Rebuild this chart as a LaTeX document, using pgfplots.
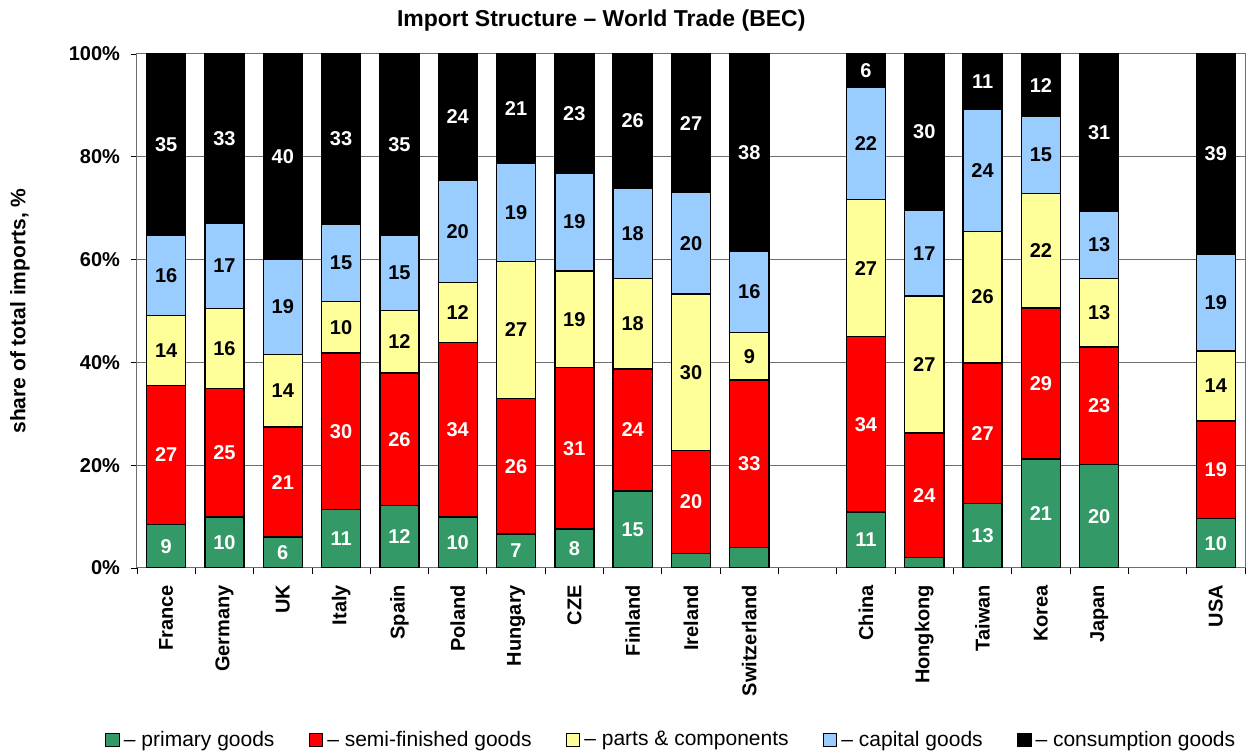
\documentclass[border=0pt]{standalone}
\usepackage{fontspec}
\setmainfont{Liberation Sans}
\usepackage{pgfplots}
\pgfplotsset{compat=1.18}
\definecolor{primgreen}{RGB}{51,153,102}
\definecolor{semired}{RGB}{255,0,0}
\definecolor{partyellow}{RGB}{255,255,153}
\definecolor{capblue}{RGB}{153,204,255}
\definecolor{gridgray}{RGB}{110,110,110}

\pgfplotsset{
  chartframe/.style={
    at={(0pt,0pt)}, anchor=south west,
    scale only axis, width=554pt, height=257pt,
    xmin=-0.5, xmax=18.5, ymin=0, ymax=100,
    enlargelimits=false,
  },
}

\begin{document}
\begin{tikzpicture}
\useasboundingbox (-68.5pt,-92.5pt) rectangle (558.5pt,284pt);
% stacked bars
\begin{axis}[
  chartframe,
  ybar stacked, bar width=0.67,
  xtick={-0.5,0.5,...,18.5}, xticklabels={},
  extra x ticks={0,1,2,3,4,5,6,7,8,9,10,12,13,14,15,16,18},
  extra x tick labels={France,Germany,UK,Italy,Spain,Poland,Hungary,CZE,Finland,Ireland,Switzerland,China,Hongkong,Taiwan,Korea,Japan,USA},
  extra x tick style={major tick length=0pt, grid=none,
    xticklabel style={rotate=90, anchor=east, font=\fontsize{10}{12}\selectfont\bfseries, xshift=-5pt}},
  ytick={0,20,...,100},
  yticklabel={\pgfmathprintnumber{\tick}\%},
  /pgf/number format/assume math mode=true,
  yticklabel style={font=\fontsize{10}{12}\selectfont\bfseries, xshift=-2pt},
  tick align=outside, major tick length=3pt,
  xtick pos=bottom, ytick pos=left,
  tick style={black, line width=0.4pt},
  axis line style={gridgray, line width=0.5pt},
  ymajorgrids, grid style={gridgray, line width=0.5pt},
  ylabel={share of total imports, \%},
  ylabel style={at={(axis description cs:-0.1056,0.5)}, anchor=center, font=\fontsize{10.5}{12}\selectfont\bfseries},
  title={Import Structure – World Trade (BEC)},
  title style={at={(axis description cs:0.419,1.066)}, anchor=center, yshift=-6pt, font=\fontsize{11.5}{13}\selectfont\bfseries},
  legend columns=-1,
  legend style={at={(axis description cs:0.483,-0.3346)}, anchor=center, draw=none, fill=none,
    font=\fontsize{10.5}{12}\selectfont,
    /tikz/every even column/.append style={column sep=15pt}},
  legend image code/.code={\draw[#1,draw=black,line width=0.6pt] (0pt,-3.4pt) rectangle (6.8pt,3.4pt);},
]
% primary goods
\addplot[fill=primgreen, draw=black, line width=0.7pt] coordinates {
  (0,8.5) (1,9.9) (2,6.0) (3,11.4) (4,12.2) (5,9.9) (6,6.6) (7,7.6) (8,15.0) (9,2.8) (10,4.0)
  (12,10.9) (13,2.0) (14,12.6) (15,21.2) (16,20.1) (18,9.6)
};
\addlegendentry{– primary goods}
% semi-finished goods
\addplot[fill=semired, draw=black, line width=0.7pt] coordinates {
  (0,27.0) (1,25.0) (2,21.4) (3,30.4) (4,25.7) (5,34.0) (6,26.4) (7,31.4) (8,23.7) (9,20.1) (10,32.6)
  (12,34.1) (13,24.3) (14,27.3) (15,29.4) (16,22.9) (18,19.0)
};
\addlegendentry{– semi-finished goods}
% parts & components
\addplot[fill=partyellow, draw=black, line width=0.7pt] coordinates {
  (0,13.6) (1,15.6) (2,14.1) (3,10.0) (4,12.2) (5,11.6) (6,26.6) (7,18.8) (8,17.6) (9,30.4) (10,9.2)
  (12,26.7) (13,26.6) (14,25.6) (15,22.2) (16,13.3) (18,13.6)
};
\addlegendentry{– parts \& components}
% capital goods
\addplot[fill=capblue, draw=black, line width=0.7pt] coordinates {
  (0,15.6) (1,16.6) (2,18.6) (3,15.1) (4,14.6) (5,20.0) (6,19.1) (7,19.0) (8,17.6) (9,19.8) (10,15.8)
  (12,21.9) (13,16.7) (14,23.8) (15,15.1) (16,13.1) (18,18.9)
};
\addlegendentry{– capital goods}
% consumption goods
\addplot[fill=black, draw=black, line width=0.7pt] coordinates {
  (0,35.3) (1,32.9) (2,39.9) (3,33.1) (4,35.3) (5,24.5) (6,21.3) (7,23.2) (8,26.1) (9,26.9) (10,38.4)
  (12,6.4) (13,30.4) (14,10.7) (15,12.1) (16,30.6) (18,38.9)
};
\addlegendentry{– consumption goods}
\end{axis}

% segment labels at the middle of each segment
\begin{axis}[
  chartframe, hide axis,
  point meta=explicit symbolic,
  nodes near coords, nodes near coords align={center},
  every node near coord/.append style={anchor=center, inner sep=0pt,
    font=\fontsize{10}{12}\selectfont\bfseries},
]
\addplot[only marks, mark=none, every node near coord/.append style={text=white}] coordinates {
  (0,4.25) [9] (1,4.95) [10] (2,3.0) [6] (3,5.7) [11] (4,6.1) [12] (5,4.95) [10]
  (6,3.3) [7] (7,3.8) [8] (8,7.5) [15]
  (12,5.45) [11] (14,6.3) [13] (15,10.6) [21] (16,10.05) [20] (18,4.8) [10]
};
\addplot[only marks, mark=none, every node near coord/.append style={text=white}] coordinates {
  (0,22.0) [27] (1,22.4) [25] (2,16.7) [21] (3,26.6) [30] (4,25.05) [26] (5,26.9) [34]
  (6,19.8) [26] (7,23.3) [31] (8,26.85) [24] (9,12.85) [20] (10,20.3) [33]
  (12,27.95) [34] (13,14.15) [24] (14,26.25) [27] (15,35.9) [29] (16,31.55) [23] (18,19.1) [19]
};
\addplot[only marks, mark=none, every node near coord/.append style={text=black}] coordinates {
  (0,42.3) [14] (1,42.7) [16] (2,34.45) [14] (3,46.8) [10] (4,44.0) [12] (5,49.7) [12]
  (6,46.3) [27] (7,48.4) [19] (8,47.5) [18] (9,38.1) [30] (10,41.2) [9]
  (12,58.35) [27] (13,39.6) [27] (14,52.7) [26] (15,61.7) [22] (16,49.65) [13] (18,35.4) [14]
};
\addplot[only marks, mark=none, every node near coord/.append style={text=black}] coordinates {
  (0,56.9) [16] (1,58.8) [17] (2,50.8) [19] (3,59.35) [15] (4,57.4) [15] (5,65.5) [20]
  (6,69.15) [19] (7,67.3) [19] (8,65.1) [18] (9,63.2) [20] (10,53.7) [16]
  (12,82.65) [22] (13,61.25) [17] (14,77.4) [24] (15,80.35) [15] (16,62.85) [13] (18,51.65) [19]
};
\addplot[only marks, mark=none, every node near coord/.append style={text=white}] coordinates {
  (0,82.35) [35] (1,83.55) [33] (2,80.05) [40] (3,83.45) [33] (4,82.35) [35] (5,87.75) [24]
  (6,89.35) [21] (7,88.4) [23] (8,86.95) [26] (9,86.55) [27] (10,80.8) [38]
  (12,96.8) [6] (13,84.8) [30] (14,94.65) [11] (15,93.95) [12] (16,84.7) [31] (18,80.55) [39]
};
\end{axis}
\end{tikzpicture}
\end{document}
